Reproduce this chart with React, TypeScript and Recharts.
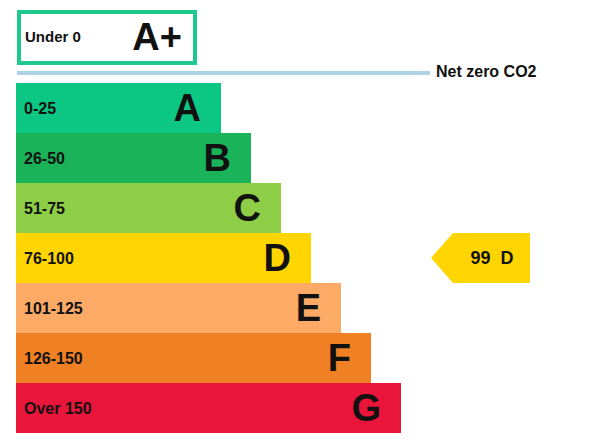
import { BarChart, Bar, XAxis, YAxis, Cell, LabelList, ReferenceDot } from "recharts";

// EPC style rating scale: one horizontal bar per band, longer as the rating worsens.
const bands = ["A", "B", "C", "D", "E", "F", "G"];
const ranges = ["0-25", "26-50", "51-75", "76-100", "101-125", "126-150", "Over 150"];
const lengths = [41, 47, 53, 59, 65, 71, 77];
const colors = ["#0cc783", "#1bb35a", "#8dce46", "#ffd500", "#fcaa65", "#ef8023", "#e9153b"];

const currentScore = 99;
const currentBand = "D";
const arrowAt = 83;

const FONT = "Arial, 'Liberation Sans', sans-serif";

const data = bands.map((band, i) => ({ band, range: ranges[i], length: lengths[i] }));

const Arrow = (props: any) => {
  const { cx, cy } = props;
  const h = 25;
  const pts = [
    [cx, cy],
    [cx + 22, cy - h],
    [cx + 99, cy - h],
    [cx + 99, cy + h],
    [cx + 22, cy + h],
  ]
    .map((p) => p.join(","))
    .join(" ");
  return (
    <g>
      <polygon points={pts} fill="#ffd500" />
      <text
        x={cx + 61}
        y={cy}
        dy="0.36em"
        textAnchor="middle"
        fontFamily={FONT}
        fontWeight="bold"
        fontSize={18}
        fill="#111"
        style={{ whiteSpace: "pre" }}
      >
        {`${currentScore}  ${currentBand}`}
      </text>
    </g>
  );
};

export default function App() {
  return (
    <div style={{ position: "absolute", left: 0, top: 0, width: 602, height: 442, background: "#fff", fontFamily: FONT }}>
      {/* A+ box */}
      <div
        style={{
          position: "absolute",
          left: 17,
          top: 10,
          width: 180,
          height: 55,
          boxSizing: "border-box",
          border: "4.5px solid #1fc88c",
        }}
      >
        <span style={{ position: "absolute", left: 4, top: 0, lineHeight: "46px", fontSize: 15, fontWeight: "bold", color: "#111" }}>
          Under 0
        </span>
        <span style={{ position: "absolute", right: 11, top: 0, lineHeight: "46px", fontSize: 38, fontWeight: "bold", color: "#111" }}>
          A+
        </span>
      </div>
      {/* net zero line */}
      <div style={{ position: "absolute", left: 17, top: 71, width: 413, height: 4, background: "#acd3e2" }} />
      <span
        style={{ position: "absolute", left: 436, top: 62, lineHeight: "20px", fontSize: 16, fontWeight: "bold", color: "#111" }}
      >
        Net zero CO2
      </span>

      <div style={{ position: "absolute", left: 0, top: 0 }}>
        <BarChart
          width={602}
          height={442}
          data={data}
          layout="vertical"
          margin={{ top: 83, right: 6, bottom: 9, left: 16 }}
          barCategoryGap={0}
        >
          <XAxis type="number" hide domain={[0, 116]} allowDataOverflow />
          <YAxis type="category" dataKey="band" hide />
          <Bar dataKey="length" isAnimationActive={false}>
            {data.map((d, i) => (
              <Cell key={d.band} fill={colors[i]} />
            ))}
            <LabelList
              dataKey="range"
              position="insideLeft"
              offset={8}
              fill="#111"
              fontSize={16}
              fontWeight="bold"
              fontFamily={FONT}
            />
            <LabelList
              dataKey="band"
              position="insideRight"
              offset={20}
              fill="#111"
              fontSize={38}
              fontWeight="bold"
              fontFamily={FONT}
            />
          </Bar>
          <ReferenceDot x={arrowAt} y={currentBand} shape={Arrow} ifOverflow="visible" />
        </BarChart>
      </div>
    </div>
  );
}
